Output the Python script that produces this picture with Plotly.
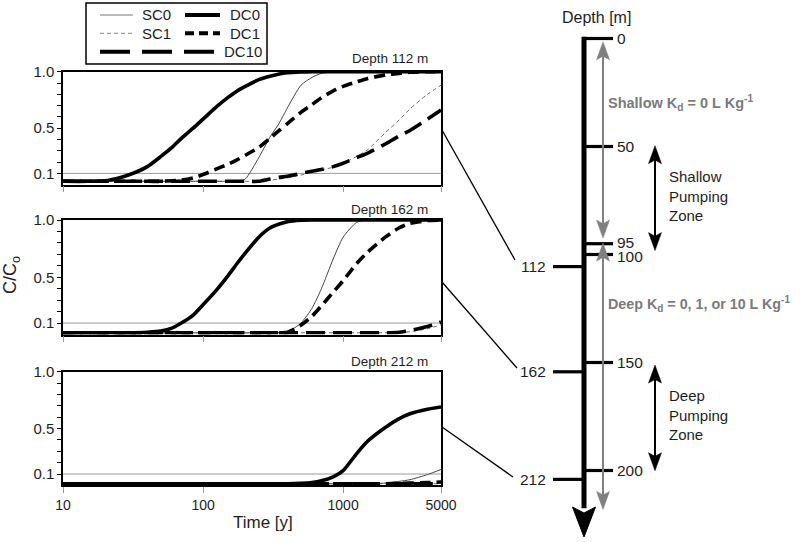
import numpy as np
import plotly.graph_objects as go

# ---------------- data ----------------
time_years = [10, 15, 20, 25, 30, 40, 50, 60, 70, 85, 100, 125, 150, 175, 200, 250,
              300, 350, 400, 500, 600, 700, 850, 1000, 1250, 1500, 2000, 2500, 3000, 4000, 5000]

# Depth 112 m
sc0_112 = [0.03]*14 + [0.05, 0.24, 0.42, 0.545, 0.68, 0.88, 0.95, 0.985, 0.998, 1, 1, 1, 1, 1, 1, 1, 1]
sc1_112 = [0.03]*16 + [0.04, 0.05, 0.06, 0.085, 0.11, 0.13, 0.155, 0.19, 0.25, 0.31, 0.46, 0.57, 0.67, 0.80, 0.88]
dc0_112 = [0.03, 0.03, 0.035, 0.06, 0.09, 0.16, 0.25, 0.33, 0.41, 0.50, 0.58, 0.69, 0.77, 0.83, 0.87, 0.93,
           0.96, 0.98, 0.99, 0.997, 1, 1, 1, 1, 1, 1, 1, 1, 1, 1, 1]
dc1_112 = [0.03]*7 + [0.035, 0.04, 0.06, 0.09, 0.14, 0.18, 0.22, 0.26, 0.33, 0.41, 0.48, 0.54, 0.64, 0.71,
                      0.77, 0.83, 0.87, 0.91, 0.94, 0.97, 0.985, 0.995, 1.0, 1.0]
dc10_112 = [0.03]*16 + [0.05, 0.065, 0.075, 0.10, 0.12, 0.135, 0.16, 0.19, 0.24, 0.28, 0.36, 0.43, 0.48, 0.58, 0.66]

# Depth 162 m
sc0_162 = [0.015]*18 + [0.02, 0.10, 0.23, 0.40, 0.66, 0.85, 0.98, 1, 1, 1, 1, 1, 1]
sc1_162 = [0.015]*28 + [0.025, 0.05, 0.085]
dc0_162 = [0.015]*5 + [0.02, 0.03, 0.055, 0.10, 0.17, 0.26, 0.39, 0.51, 0.62, 0.71, 0.85, 0.93, 0.965, 0.985,
                       0.998, 1, 1, 1, 1, 1, 1, 1, 1, 1, 1, 1]
dc1_162 = [0.015]*18 + [0.02, 0.08, 0.16, 0.25, 0.37, 0.47, 0.62, 0.72, 0.85, 0.93, 0.97, 0.995, 1.0]
dc10_162 = [0.015]*27 + [0.02, 0.035, 0.07, 0.11]

# Depth 212 m
sc0_212 = [0.015]*26 + [0.02, 0.035, 0.05, 0.095, 0.14]
sc1_212 = [0.015]*31
dc0_212 = [0.015]*19 + [0.018, 0.025, 0.04, 0.075, 0.13, 0.28, 0.39, 0.51, 0.585, 0.63, 0.67, 0.69]
dc1_212 = [0.015]*27 + [0.017, 0.02, 0.025, 0.03]
dc10_212 = [0.015]*31

panel_titles = ["Depth 112 m", "Depth 162 m", "Depth 212 m"]
x_tick_vals = [10, 100, 1000, 5000]
x_tick_text = ["10", "100", "1000", "5000"]
y_tick_vals = [0.1, 0.5, 1.0]
y_tick_text = ["0.1", "0.5", "1.0"]

# depth diagram
depth_ticks_right = [0, 50, 95, 100, 150, 200]
depth_labels_left = ["112", "162", "212"]
depth_pos_left = [105.6, 154.3, 204.1]      # where the original places the observation ticks
shallow_kd_span = [1.5, 92.4]
deep_kd_span = [94.7, 218.0]
shallow_pump_span = [49.6, 98.2]
deep_pump_span = [151.2, 200.1]
axis_end_depth = 230.8

# ---------------- figure ----------------
W, H = 800, 542
FONT = "Liberation Sans, Arial, sans-serif"
TXT = "#1e1e1e"

def px(xp):
    return xp / W

def py(yp):
    return 1 - yp / H

fig = go.Figure()

styles = {
    "SC0": dict(color="#444", width=1, dash="solid"),
    "SC1": dict(color="#666", width=1, dash="4px,3px"),
    "DC0": dict(color="black", width=3.6, dash="solid"),
    "DC1": dict(color="black", width=3.6, dash="11px,6px"),
    "DC10": dict(color="black", width=3.6, dash="19px,8px"),
}
panels = [
    {"SC0": sc0_112, "SC1": sc1_112, "DC0": dc0_112, "DC1": dc1_112, "DC10": dc10_112},
    {"SC0": sc0_162, "SC1": sc1_162, "DC0": dc0_162, "DC1": dc1_162, "DC10": dc10_162},
    {"SC0": sc0_212, "SC1": sc1_212, "DC0": dc0_212, "DC1": dc1_212, "DC10": dc10_212},
]
axsuf = ["", "2", "3"]
for i, p in enumerate(panels):
    for name in ["SC0", "SC1", "DC0", "DC1", "DC10"]:
        fig.add_trace(go.Scatter(
            x=time_years, y=p[name], mode="lines", name=name,
            line=dict(shape="spline", smoothing=0.6, **styles[name]),
            xaxis="x" + axsuf[i], yaxis="y" + axsuf[i], showlegend=False, hoverinfo="skip"))

# dummy trace for diagram axes
fig.add_trace(go.Scatter(x=[0.5], y=[0], xaxis="x4", yaxis="y4", mode="markers",
                         marker=dict(opacity=0), showlegend=False, hoverinfo="skip"))

ydoms = [[py(184.7), py(71.7)], [py(334.5), py(220)], [py(485.4), py(371.7)]]
xdom = [px(63), px(441)]

layout = dict(width=W, height=H, margin=dict(l=0, r=0, t=0, b=0), template="none",
              paper_bgcolor="white", plot_bgcolor="white", showlegend=False,
              font=dict(family=FONT, color=TXT))
for i in range(3):
    s = axsuf[i]
    layout["xaxis" + s] = dict(
        domain=xdom, type="log", range=[1, np.log10(5000)], anchor="y" + s,
        tickvals=x_tick_vals, ticktext=x_tick_text, showticklabels=(i == 2),
        ticks="outside", ticklen=6, tickwidth=1, tickcolor="#9a9a9a",
        showline=True, linecolor="black", linewidth=1.5, mirror=True,
        showgrid=False, zeroline=False, automargin=False,
        tickfont=dict(size=14, color=TXT, family=FONT))
    layout["yaxis" + s] = dict(
        domain=ydoms[i], range=[0, 1], anchor="x" + s,
        tickvals=y_tick_vals, ticktext=y_tick_text,
        ticks="outside", ticklen=4, tickwidth=1.2, tickcolor="black",
        minor=dict(tickvals=[0.2, 0.3, 0.4, 0.6, 0.7, 0.8, 0.9], ticks="outside",
                   ticklen=4, tickwidth=1.2, tickcolor="black", showgrid=False),
        showline=True, linecolor="black", linewidth=1.5, mirror=True,
        showgrid=False, zeroline=False, automargin=False,
        tickfont=dict(size=15, color=TXT, family=FONT))
layout["xaxis4"] = dict(domain=[0.6, 1], range=[0, 1], visible=False, anchor="y4")
layout["yaxis4"] = dict(domain=[0, 1], range=[(H - 38.5) / 2.16, -38.5 / 2.16],
                        visible=False, anchor="x4")
fig.update_layout(**layout)

shapes = []
annotations = []

# 0.1 reference lines + panel titles
title_y = [59, 209, 361.7]
for i in range(3):
    s = axsuf[i]
    shapes.append(dict(type="line", xref="x%s domain" % s, x0=0, x1=1, yref="y" + s, y0=0.1, y1=0.1,
                       line=dict(color="#9a9a9a", width=1), layer="below"))
    annotations.append(dict(text=panel_titles[i], xref="paper", yref="paper", x=px(430), y=py(title_y[i]),
                            xanchor="right", yanchor="middle", showarrow=False,
                            font=dict(size=13.5, color=TXT)))

# axis titles
annotations.append(dict(text="C/C<sub>o</sub>", xref="paper", yref="paper", x=px(11), y=py(275),
                        textangle=-90, showarrow=False, xanchor="center", yanchor="middle",
                        font=dict(size=18, color=TXT)))
annotations.append(dict(text="Time [y]", xref="paper", yref="paper", x=px(263), y=py(522.7),
                        showarrow=False, xanchor="center", yanchor="middle", font=dict(size=17, color=TXT)))

# legend (drawn)
shapes.append(dict(type="rect", xref="paper", yref="paper", x0=px(86), x1=px(267), y0=py(64), y1=py(3),
                   line=dict(color="black", width=1.5), fillcolor="white"))
leg = [("SC0", 100, 133, 15, 140, dict(color="#777", width=1)),
       ("SC1", 100, 133, 33.3, 140, dict(color="#888", width=1, dash="4px,3px")),
       ("DC0", 185, 220, 15, 228, dict(color="black", width=4)),
       ("DC1", 185, 220, 33.3, 228, dict(color="black", width=4, dash="9px,5px")),
       ("DC10", 100, 216, 51.7, 222, dict(color="black", width=4, dash="30px,12px"))]
for name, x0, x1, yy, tx, ln in leg:
    shapes.append(dict(type="line", xref="paper", yref="paper", x0=px(x0), x1=px(x1), y0=py(yy), y1=py(yy), line=ln))
    annotations.append(dict(text=name, xref="paper", yref="paper", x=px(tx), y=py(yy), xanchor="left",
                            yanchor="middle", showarrow=False, font=dict(size=15, color=TXT)))

# ---------------- depth diagram ----------------
XC = px(584)
XR = px(613)
XL = px(553)
XG = px(603)
XB = px(655)
D_PER_PX = 1 / 2.16

# main shaft
shapes.append(dict(type="line", xref="paper", yref="y4", x0=XC, x1=XC, y0=-0.8, y1=217.5,
                   line=dict(color="black", width=5)))
# main arrowhead
hw = px(11.5)
shapes.append(dict(type="path", xref="paper", yref="y4",
                   path="M %f,%f L %f,%f L %f,%f L %f,%f Z" % (XC - hw, 216.9, XC, axis_end_depth, XC + hw, 216.9,
                                                                 XC, 219.7),
                   fillcolor="black", line=dict(color="black", width=1)))
# right ticks (labels of 95 and 100 nudged apart slightly, as in the original)
label_shift = {95: 1, 100: -2}
for d in depth_ticks_right:
    shapes.append(dict(type="line", xref="paper", yref="y4", x0=XC - px(2), x1=XR, y0=d, y1=d,
                       line=dict(color="black", width=3.2)))
    annotations.append(dict(text=str(d), xref="paper", yref="y4", x=px(615), y=d, xanchor="left",
                            yanchor="middle", showarrow=False, yshift=label_shift.get(d, 0),
                            font=dict(size=15.5, color=TXT)))
# left ticks
for lab, d in zip(depth_labels_left, depth_pos_left):
    shapes.append(dict(type="line", xref="paper", yref="y4", x0=XL, x1=XC, y0=d, y1=d,
                       line=dict(color="black", width=3.2)))
    annotations.append(dict(text=lab, xref="paper", yref="y4", x=px(548), y=d, xanchor="right",
                            yanchor="middle", showarrow=False, font=dict(size=15.5, color=TXT)))

def double_arrow(x, span, color, width, head_w=6.5, head_l=18):
    top, bot = span
    hl = head_l * D_PER_PX
    out = [dict(type="line", xref="paper", yref="y4", x0=x, x1=x, y0=top + hl * 0.5, y1=bot - hl * 0.5,
                line=dict(color=color, width=width))]
    h = px(head_w)
    out.append(dict(type="path", xref="paper", yref="y4",
                    path="M %f,%f L %f,%f L %f,%f L %f,%f Z" % (x - h, top + hl, x, top, x + h, top + hl, x, top + hl * 0.8),
                    fillcolor=color, line=dict(color=color, width=0.5)))
    out.append(dict(type="path", xref="paper", yref="y4",
                    path="M %f,%f L %f,%f L %f,%f L %f,%f Z" % (x - h, bot - hl, x, bot, x + h, bot - hl, x, bot - hl * 0.8),
                    fillcolor=color, line=dict(color=color, width=0.5)))
    return out

shapes += double_arrow(XG, shallow_kd_span, "#808080", 2)
shapes += double_arrow(XG, deep_kd_span, "#808080", 2)
shapes += double_arrow(XB, shallow_pump_span, "black", 2)
shapes += double_arrow(XB, deep_pump_span, "black", 2)

GRAY = "#7a7a7a"
annotations.append(dict(text="<b>Shallow K<sub>d</sub> = 0 L Kg<sup>-1</sup></b>", xref="paper", yref="y4",
                        x=px(606), y=(102.5 - 38.5) / 2.16, xanchor="left", yanchor="middle", showarrow=False,
                        font=dict(size=14.5, color=GRAY)))
annotations.append(dict(text="<b>Deep K<sub>d</sub> = 0, 1, or 10 L Kg<sup>-1</sup></b>", xref="paper", yref="y4",
                        x=px(606), y=(304 - 38.5) / 2.16, xanchor="left", yanchor="middle", showarrow=False,
                        font=dict(size=14.3, color=GRAY)))
annotations.append(dict(text="Shallow<br>Pumping<br>Zone", xref="paper", yref="y4", x=px(667),
                        y=(196 - 38.5) / 2.16, xanchor="left", yanchor="middle", align="left", showarrow=False,
                        font=dict(size=15, color=TXT)))
annotations.append(dict(text="Deep<br>Pumping<br>Zone", xref="paper", yref="y4", x=px(667),
                        y=(414.7 - 38.5) / 2.16, xanchor="left", yanchor="middle", align="left", showarrow=False,
                        font=dict(size=15, color=TXT)))
annotations.append(dict(text="Depth [m]", xref="paper", yref="paper", x=px(596), y=py(18),
                        xanchor="center", yanchor="middle", showarrow=False, font=dict(size=16, color=TXT)))

# connectors panel -> observation depth
conn = [((442, 130), (515, 260)), ((442, 282), (517, 368)), ((442, 427), (513, 477))]
for (a, b) in conn:
    shapes.append(dict(type="line", xref="paper", yref="paper", x0=px(a[0]), y0=py(a[1]), x1=px(b[0]), y1=py(b[1]),
                       line=dict(color="black", width=1.3)))

fig.update_layout(shapes=shapes, annotations=annotations)
fig.write_html("out.html", config={"displayModeBar": False},
               post_script="document.body.style.margin='0px';document.body.style.padding='0px';"
                           "document.body.style.overflow='hidden';")
